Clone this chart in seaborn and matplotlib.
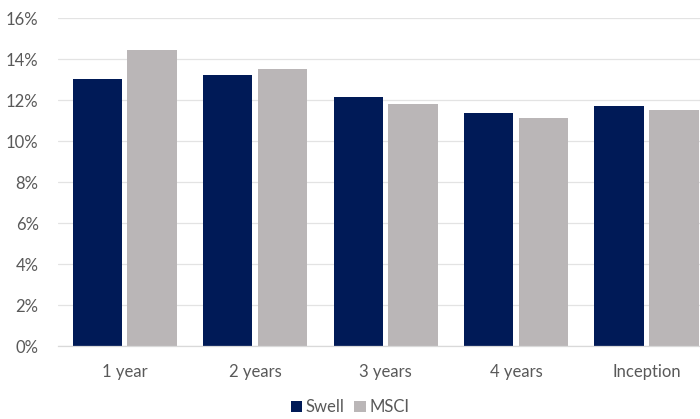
import matplotlib
matplotlib.use("Agg")
import matplotlib.pyplot as plt
import seaborn as sns
import pandas as pd
from matplotlib.patches import Patch
from matplotlib.ticker import PercentFormatter

periods = ["1 year", "2 years", "3 years", "4 years", "Inception"]
swell = [13.05, 13.2, 12.13, 11.35, 11.71]
msci = [14.42, 13.53, 11.79, 11.14, 11.51]
series = ["Swell", "MSCI"]
colors = {"Swell": "#001A57", "MSCI": "#BAB6B7"}

df = pd.DataFrame({
    "period": periods * 2,
    "series": ["Swell"] * len(periods) + ["MSCI"] * len(periods),
    "value": swell + msci,
})

sns.set_theme(style="white")
plt.rcParams["font.family"] = ["Lato", "DejaVu Sans"]
text_color = "#595959"

fig = plt.figure(figsize=(7, 4.19), dpi=100)
ax = fig.add_axes([0.083, 0.174, 0.917, 0.783])

sns.barplot(data=df, x="period", y="value", hue="series", order=periods,
            hue_order=series, palette=colors, saturation=1, width=0.84, gap=0.1,
            ax=ax, legend=False, edgecolor="none")

ax.set_ylim(0, 16)
ax.set_yticks(range(0, 17, 2))
ax.yaxis.set_major_formatter(PercentFormatter(decimals=0))
ax.set_xlim(-0.51, 4.41)
ax.set_xlabel("")
ax.set_ylabel("")
ax.grid(axis="y", color="#E3E3E3", linewidth=0.9)
ax.set_axisbelow(True)
for side in ["top", "right", "left"]:
    ax.spines[side].set_visible(False)
ax.spines["bottom"].set_color("#D9D9D9")
ax.spines["bottom"].set_linewidth(0.9)
ax.tick_params(axis="y", length=0, pad=14, labelsize=12, labelcolor=text_color)
ax.tick_params(axis="x", length=0, pad=13, labelsize=12, labelcolor=text_color)

handles = [Patch(facecolor=colors[s], edgecolor="none") for s in series]
fig.legend(handles, series, loc="center", bbox_to_anchor=(0.5, 0.028), ncol=2,
           frameon=False, handlelength=0.7, handleheight=0.7, handletextpad=0.2,
           columnspacing=0.6, fontsize=12, labelcolor=text_color)

fig.savefig("out.png", dpi=100)
